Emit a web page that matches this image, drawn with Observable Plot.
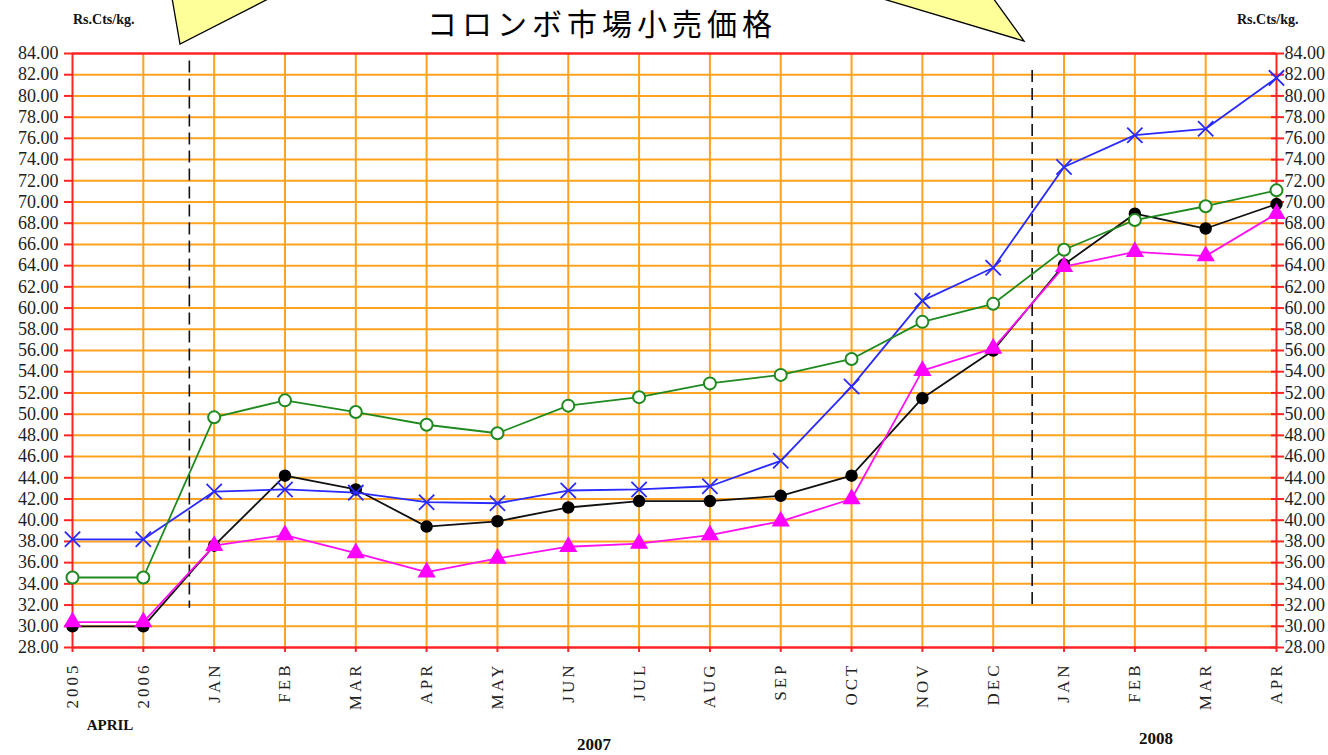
<!DOCTYPE html>
<html>
<head>
<meta charset="utf-8">
<script src="https://cdn.jsdelivr.net/npm/d3@7"></script>
<script src="https://cdn.jsdelivr.net/npm/@observablehq/plot@0.6"></script>
<style>
  body { margin: 0; background: #fff; }
  #chart svg { display: block; }
</style>
</head>
<body>
<div id="chart"></div>
<script>
// Month labels along the x axis (April 2005, April 2006, Jan 2007 ... Apr 2008)
const months = ["2005","2006","JAN","FEB","MAR","APR","MAY","JUN","JUL","AUG","SEP","OCT","NOV","DEC","JAN","FEB","MAR","APR"];

// Y axis tick values (Rs.Cts/kg.)
const yTicks = d3.range(28, 85, 2);

// Series values
const blueX       = [38.2,38.2,42.7,42.9,42.6,41.7,41.6,42.8,42.9,43.2,45.6,52.6,60.7,63.8,73.3,76.3,76.9,81.7];
const greenCircle = [34.6,34.6,49.7,51.3,50.2,49.0,48.2,50.8,51.6,52.9,53.7,55.2,58.7,60.4,65.5,68.3,69.6,71.1];
const blackDot    = [30.0,30.0,37.6,44.2,42.9,39.4,39.9,41.2,41.8,41.8,42.3,44.2,51.5,56.0,64.1,68.9,67.5,69.8];
const magentaTri  = [30.4,30.4,37.6,38.6,36.9,35.1,36.4,37.5,37.8,38.6,39.9,42.0,54.1,56.2,63.9,65.3,64.9,68.9];

const ORANGE = "#FFA21F";
const RED = "#FF2424";
const serif = "'Liberation Serif', 'Times New Roman', serif";

const idx = (d, i) => i;
const val = d => d;

const chart = Plot.plot({
  width: 1328,
  height: 755,
  marginLeft: 72,
  marginRight: 52,
  marginTop: 53,
  marginBottom: 108,
  style: { background: "white", overflow: "visible" },
  x: { type: "linear", domain: [0, months.length - 1] },
  y: { domain: [28, 84] },
  marks: [
    // grid
    Plot.ruleY(yTicks.filter(v => v > 28 && v < 84), { stroke: ORANGE, strokeWidth: 2 }),
    Plot.ruleX(d3.range(1, months.length - 1), { stroke: ORANGE, strokeWidth: 2 }),
    // left axis ticks + labels
    Plot.axisY({ anchor: "left", ticks: yTicks, tickSize: 8, tickPadding: 6, stroke: RED, strokeWidth: 2,
      fill: "#1d1d1d", fontSize: 18, fontFamily: serif, tickFormat: d => d.toFixed(2), label: null }),
    // right axis ticks (crossing the frame) + labels
    Plot.axisY({ anchor: "right", ticks: yTicks, tickSize: 7, tickPadding: 1, stroke: RED, strokeWidth: 2,
      fill: "#1d1d1d", fontSize: 18, fontFamily: serif, tickFormat: d => d.toFixed(2), label: null }),
    Plot.axisY({ anchor: "right", ticks: yTicks, tickSize: -6, stroke: RED, strokeWidth: 2, fill: "none", label: null }),
    // bottom axis
    Plot.axisX({ ticks: d3.range(months.length), tickFormat: i => months[i], tickRotate: -90,
      tickSize: 5, tickPadding: 10, stroke: RED, strokeWidth: 2, fill: "#222", fontSize: 17, fontFamily: serif, label: null }),
    // frame
    Plot.ruleY([28, 84], { stroke: RED, strokeWidth: 2.5 }),
    Plot.ruleX([0, months.length - 1], { stroke: RED, strokeWidth: 2 }),
    // period separators (dashed)
    Plot.ruleX([1.65], { y1: 83.3, y2: 31.7, stroke: "#111", strokeWidth: 1.6, strokeDasharray: "12,6" }),
    Plot.ruleX([13.55], { y1: 82.4, y2: 32.0, stroke: "#111", strokeWidth: 1.6, strokeDasharray: "12,6" }),
    // black series
    Plot.lineY(blackDot, { x: idx, y: val, stroke: "#111", strokeWidth: 1.8 }),
    Plot.dotY(blackDot, { x: idx, y: val, r: 5.5, fill: "#000", stroke: "#000" }),
    // magenta series
    Plot.lineY(magentaTri, { x: idx, y: val, stroke: "#FF10F0", strokeWidth: 1.8 }),
    Plot.dotY(magentaTri, { x: idx, y: val, symbol: "triangle", r: 5.8, fill: "#FF00FF", stroke: "#FF00FF" }),
    // blue series
    Plot.lineY(blueX, { x: idx, y: val, stroke: "#2a2aff", strokeWidth: 1.8 }),
    Plot.dotY(blueX, { x: idx, y: val, symbol: "times", r: 7, stroke: "#2a2aff", strokeWidth: 1.8 }),
    // green series
    Plot.lineY(greenCircle, { x: idx, y: val, stroke: "#1f8a1f", strokeWidth: 1.8 }),
    Plot.dotY(greenCircle, { x: idx, y: val, r: 6, fill: "white", stroke: "#1f8a1f", strokeWidth: 2 })
  ]
});

document.getElementById("chart").appendChild(chart);

const svg = d3.select(chart);

svg.selectAll('g[aria-label="x-axis tick label"] text').style("letter-spacing", "3px");

// callout tails (yellow)
svg.append("polygon").attr("points", "172,-2 180,44 270,-2")
  .attr("fill", "#FFFF99").attr("stroke", "#000").attr("stroke-width", 1.3);
svg.append("polygon").attr("points", "880,-2 1024,41 993,-2")
  .attr("fill", "#FFFF99").attr("stroke", "#000").attr("stroke-width", 1.3);

// title
svg.append("text").attr("x", 602).attr("y", 35).attr("text-anchor", "middle")
  .attr("font-family", "'Noto Sans CJK JP', sans-serif").attr("font-size", 30).attr("fill", "#000")
  .style("letter-spacing", "5px")
  .text("コロンボ市場小売価格");

// unit labels
svg.append("text").attr("x", 73).attr("y", 24).attr("text-anchor", "start").attr("font-family", serif)
  .attr("font-weight", "bold").attr("font-size", 14).attr("fill", "#111").text("Rs.Cts/kg.");
svg.append("text").attr("x", 1237).attr("y", 24).attr("text-anchor", "start").attr("font-family", serif)
  .attr("font-weight", "bold").attr("font-size", 14).attr("fill", "#111").text("Rs.Cts/kg.");

// period labels
svg.append("text").attr("x", 110).attr("y", 730).attr("text-anchor", "middle").attr("font-family", serif)
  .attr("font-weight", "bold").attr("font-size", 15).attr("fill", "#111").text("APRIL");
svg.append("text").attr("x", 594).attr("y", 750).attr("text-anchor", "middle").attr("font-family", serif)
  .attr("font-weight", "bold").attr("font-size", 17).attr("fill", "#111").text("2007");
svg.append("text").attr("x", 1156).attr("y", 744).attr("text-anchor", "middle").attr("font-family", serif)
  .attr("font-weight", "bold").attr("font-size", 17).attr("fill", "#111").text("2008");
</script>
</body>
</html>
